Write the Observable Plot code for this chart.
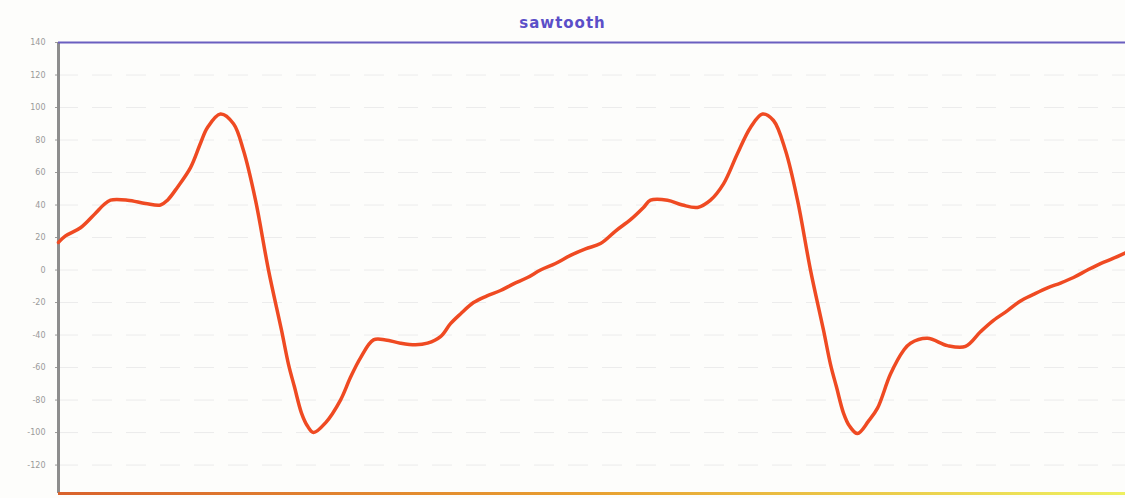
<!DOCTYPE html>
<html>
<head>
<meta charset="utf-8">
<script src="https://cdn.jsdelivr.net/npm/d3@7"></script>
<script src="https://cdn.jsdelivr.net/npm/@observablehq/plot@0.6"></script>
<style>
  html, body { margin: 0; padding: 0; background: #fdfdfb; }
  #wrap { position: relative; width: 1125px; height: 498px; overflow: hidden; }
  #title { position: absolute; left: 0; top: 14px; width: 1125px; text-align: center;
           font: bold 15px "DejaVu Sans", sans-serif; color: #5b4fc8; letter-spacing: 1px; }
</style>
</head>
<body>
<div id="wrap">
<div id="title">sawtooth</div>
</div>
<script>
const chartTitle = "sawtooth";
const t = [0, 7, 22, 37, 45, 52, 69, 87, 102, 109, 119, 132, 142, 149, 162, 175, 185, 197, 210, 223,
  230, 236, 243, 249, 255, 267, 282, 292, 302, 315, 327, 342, 357, 369, 382, 392, 402, 415, 428, 442, 455,
  469, 482, 497, 512, 527, 542, 557, 572, 585, 592, 609, 624, 639, 652, 665, 679, 692, 704, 715, 727,
  739, 752, 765, 772, 778, 785, 791, 799, 810, 819, 832, 845, 852, 869, 889, 907, 922, 935, 949, 962, 975,
  989, 1002, 1015, 1029, 1042, 1054, 1067];
const v = [17, 21, 26, 35, 40, 43, 43, 41, 40, 43, 51, 63, 78, 87.7, 96, 90, 73.5, 43, 0, -37,
  -58, -72, -88, -96, -100, -94, -80, -66, -54, -43, -43, -45, -46, -45, -41, -33, -27, -20, -16, -12.6, -8.5,
  -4.6, 0, 4, 9, 13, 16.3, 24, 31, 38.5, 43, 43, 40, 38.5, 43, 53, 71.7, 87.7, 96, 92, 73.5,
  43, 0, -37, -58, -72, -88, -96, -100.6, -93, -85, -64, -49.5, -45, -42, -46.5, -47, -38, -31, -25, -19, -15,
  -11, -8, -4.6, 0, 4, 7, 10.6];
const yTicks = [140, 120, 100, 80, 60, 40, 20, 0, -20, -40, -60, -80, -100, -120];

const data = t.map((d, i) => ({t: d, v: v[i]}));
const yMin = -137.5, yMax = 140;

const chart = Plot.plot({
  width: 1125,
  height: 498,
  marginTop: 42,
  marginBottom: 5,
  marginLeft: 58,
  marginRight: 0,
  style: {background: "transparent", fontFamily: "DejaVu Sans, sans-serif"},
  x: {domain: [0, 1067], axis: null},
  y: {domain: [yMin, yMax], ticks: yTicks, tickSize: 3, tickPadding: 8,
      tickFormat: d => String(d), label: null},
  marks: [
    Plot.gridY(yTicks, {stroke: "#ececec", strokeOpacity: 1, strokeDasharray: "20,14"}),
    Plot.axisY(yTicks, {fontSize: 8, color: "#9a9a9a", tickSize: 3, tickPadding: 10, label: null,
                        tickFormat: d => String(d)}),
    Plot.ruleX([0], {stroke: "#8d8d8d", strokeWidth: 3}),
    Plot.ruleY([yMax], {stroke: "#6a5fc0", strokeWidth: 2}),
    Plot.ruleY([yMin], {stroke: "url(#bottomGrad)", strokeWidth: 3}),
    Plot.line(data, {x: "t", y: "v", stroke: "#ef4a22", strokeWidth: 3.5, curve: "catmull-rom"})
  ]
});

// gradient for the bottom rule
const svg = d3.select(chart);
const defs = svg.insert("defs", ":first-child");
const g = defs.append("linearGradient").attr("id", "bottomGrad")
  .attr("gradientUnits", "userSpaceOnUse").attr("x1", 58).attr("x2", 1125).attr("y1", 0).attr("y2", 0);
g.append("stop").attr("offset", "0").attr("stop-color", "#d9622c");
g.append("stop").attr("offset", "0.5").attr("stop-color", "#e8a030");
g.append("stop").attr("offset", "1").attr("stop-color", "#eef060");

document.getElementById("title").textContent = chartTitle;
document.getElementById("wrap").appendChild(chart);
</script>
</body>
</html>
